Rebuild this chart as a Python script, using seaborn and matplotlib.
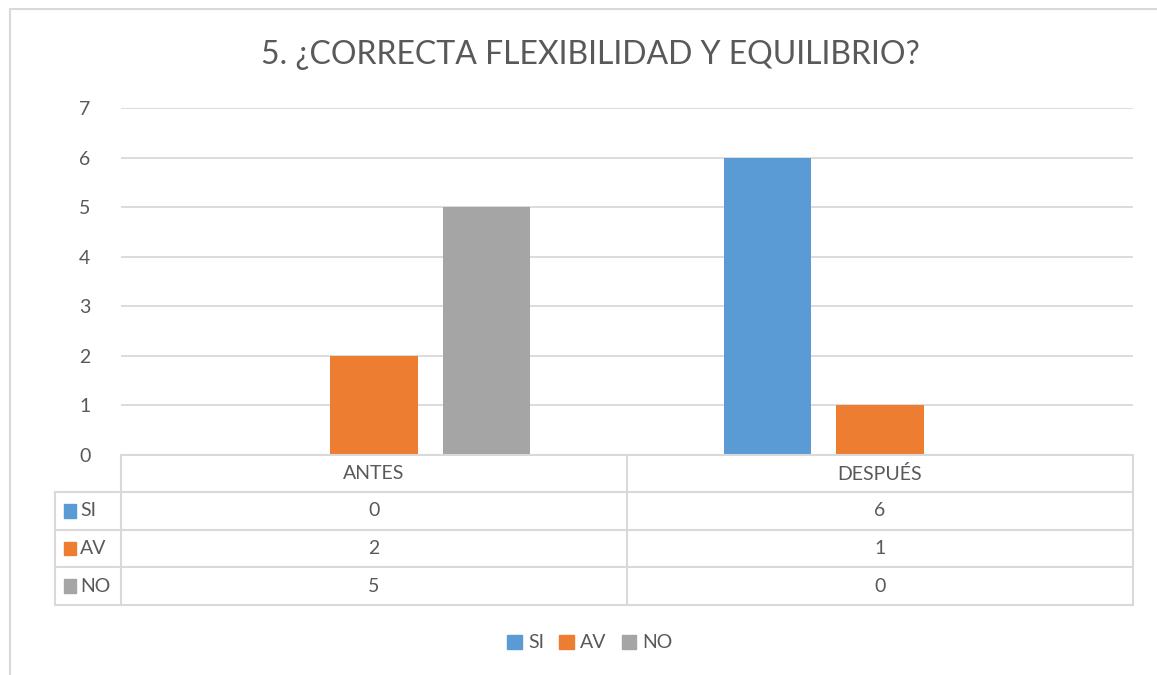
import seaborn as sns
import matplotlib.pyplot as plt
import pandas as pd
from matplotlib.patches import Rectangle, Patch
from matplotlib.lines import Line2D

# datos del gráfico
categorias = ['ANTES', 'DESPUÉS']
series = ['SI', 'AV', 'NO']
si = [0, 6]
av = [2, 1]
no = [5, 0]
colores = ['#5B9BD5', '#ED7D31', '#A5A5A5']
titulo = '5. ¿CORRECTA FLEXIBILIDAD Y EQUILIBRIO?'

valores = {'SI': si, 'AV': av, 'NO': no}
df = pd.DataFrame([
    {'momento': c, 'serie': s, 'valor': valores[s][i]}
    for s in series for i, c in enumerate(categorias)
])

sns.set_style('white')
plt.rcParams['font.family'] = ['Lato', 'DejaVu Sans']
gris_txt = '#595959'
gris_lin = '#D9D9D9'

fig = plt.figure(figsize=(11.57, 6.75), dpi=100)
ax = fig.add_axes([121 / 1157, 1 - 455 / 675, (1133 - 121) / 1157, (455 - 108) / 675])

sns.barplot(data=df, x='momento', y='valor', hue='serie', hue_order=series,
            order=categorias, palette=colores, width=0.667, gap=0.22,
            saturation=1, legend=False, linewidth=0, ax=ax)

ax.set_ylim(0, 7)
ax.set_xlim(-0.5, 1.5)
ax.set_yticks(range(0, 8))
ax.yaxis.grid(True, color=gris_lin, lw=1.3)
ax.set_axisbelow(True)
for s in ax.spines.values():
    s.set_visible(False)
ax.set_xticks([])
ax.set_xlabel('')
ax.set_ylabel('')
ax.tick_params(axis='y', length=0, pad=22, labelsize=14, labelcolor=gris_txt)

# tabla de datos debajo del gráfico
h = 347.0
filas = [0, -37 / h, -75 / h, -112 / h, -150 / h]
xl = (55 - 121) / 1012
kw = dict(color=gris_lin, lw=1.5, transform=ax.transAxes, clip_on=False)
ax.add_line(Line2D([0, 1], [filas[0], filas[0]], **kw))
for y in filas[1:]:
    ax.add_line(Line2D([xl, 1], [y, y], **kw))
for x in [0, 0.5, 1]:
    ax.add_line(Line2D([x, x], [filas[0], filas[-1]], **kw))
ax.add_line(Line2D([xl, xl], [filas[1], filas[-1]], **kw))

for i, c in enumerate(categorias):
    xc = 0.25 + 0.5 * i
    ax.text(xc, (filas[0] + filas[1]) / 2, c, transform=ax.transAxes,
            ha='center', va='center', fontsize=14, color=gris_txt)
    for j, s in enumerate(series):
        ax.text(xc, (filas[j + 1] + filas[j + 2]) / 2, str(valores[s][i]),
                transform=ax.transAxes, ha='center', va='center',
                fontsize=14, color=gris_txt)

for j, s in enumerate(series):
    yc = (filas[j + 1] + filas[j + 2]) / 2
    ax.add_patch(Rectangle((xl + 0.009, yc - 0.019), 0.012, 0.038, color=colores[j],
                           transform=ax.transAxes, clip_on=False))
    ax.text(xl + 0.025, yc, s, transform=ax.transAxes, ha='left', va='center',
            fontsize=14, color=gris_txt)

# título
fig.text(590 / 1157, 1 - 55 / 675, titulo, ha='center', va='center',
         fontsize=23, color=gris_txt)

# leyenda
handles = [Patch(color=colores[j], label=s) for j, s in enumerate(series)]
leg = fig.legend(handles=handles, loc='center', ncol=3, frameon=False,
                 bbox_to_anchor=(590 / 1157, 1 - 643 / 675), fontsize=14,
                 handlelength=0.75, handleheight=0.75, handletextpad=0.3,
                 columnspacing=0.8)
for t in leg.get_texts():
    t.set_color(gris_txt)

# borde del área del gráfico
fig.patches.append(Rectangle((10 / 1157, -0.05), 1.1, 1 - 9 / 675 + 0.05,
                             transform=fig.transFigure, fill=False,
                             edgecolor=gris_lin, lw=1.5))

fig.savefig('out.png', dpi=100)
